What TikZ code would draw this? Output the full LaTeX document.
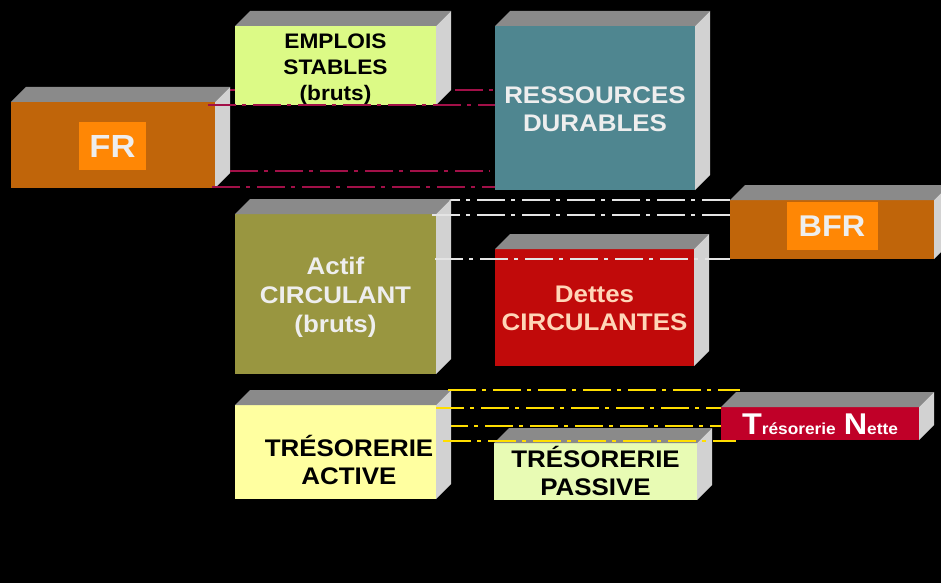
\documentclass[tikz,border=0pt]{standalone}
\usepackage{fontspec}
\setmainfont{Liberation Sans}[FakeStretch=1.08]
\definecolor{topc}{RGB}{138,138,138}
\definecolor{sidec}{RGB}{210,210,210}
\definecolor{emploisc}{RGB}{220,250,134}
\definecolor{frc}{RGB}{192,101,10}
\definecolor{orangelab}{RGB}{255,135,5}
\definecolor{rdc}{RGB}{79,134,144}
\definecolor{actifc}{RGB}{153,150,64}
\definecolor{dettesc}{RGB}{193,10,10}
\definecolor{dettest}{RGB}{255,214,184}
\definecolor{tac}{RGB}{255,255,160}
\definecolor{tpc}{RGB}{232,251,180}
\definecolor{tnc}{RGB}{192,0,40}
\definecolor{crim}{RGB}{162,16,72}
\definecolor{whl}{RGB}{228,228,228}
\definecolor{yel}{RGB}{255,222,0}
\definecolor{lightt}{RGB}{238,238,238}
\tikzset{
  front/.style={rectangle, inner sep=0pt, outer sep=0pt, draw=none},
  topface/.style={fill=topc},
  sideface/.style={fill=sidec},
  lab/.style={font=\bfseries, align=center, inner sep=0pt},
  dashdot/.style={line width=2.9pt, dash pattern=on 28pt off 6pt on 4pt off 7pt},
  crimline/.style={dashdot, draw=crim},
  whiteline/.style={dashdot, draw=whl},
  yelline/.style={dashdot, draw=yel},
}
\newcommand\bbox[6]{%
  \node[front, fill=#6, minimum width={#4-#2}, minimum height={#5-#3}] (#1) at ({(#2+#4)/2},{(#3+#5)/2}) {};
  \fill[topface] (#1.north west) -- ++(15,-15) -- ([shift={(15,-15)}]#1.north east) -- (#1.north east) -- cycle;
  \fill[sideface] (#1.north east) -- ++(15,-15) -- ([shift={(15,-15)}]#1.south east) -- (#1.south east) -- cycle;
}
\begin{document}
\begin{tikzpicture}[x=1pt,y=-1pt]
\fill[black] (0,0) rectangle (941,583);
\clip (0,0) rectangle (941,583);
% lines behind boxes
\coordinate (c1a) at (230,90);  \coordinate (c1b) at (495,90);
\coordinate (w1a) at (432,200); \coordinate (w1b) at (730,200);
\coordinate (y3a) at (440,426); \coordinate (y3b) at (721,426);
\draw[crimline] (c1a) -- (c1b);
\draw[whiteline] (w1a) -- (w1b);
\draw[yelline] (y3a) -- (y3b);
% boxes
\bbox{emplois}{235}{26}{436}{105}{emploisc}
\bbox{fr}{11}{102}{215}{188}{frc}
\bbox{rd}{495}{26}{695}{190}{rdc}
\bbox{bfr}{730}{200}{934}{259}{frc}
\bbox{actif}{235}{214}{436}{374}{actifc}
\bbox{dettes}{495}{249}{694}{366}{dettesc}
\bbox{ta}{235}{405}{436}{499}{tac}
\bbox{tp}{494}{443}{697}{500}{tpc}
\bbox{tn}{721}{407}{919}{440}{tnc}
% labels
\node[lab, fill=orangelab, minimum width=67pt, minimum height=48pt, text=lightt, font=\bfseries\fontsize{32}{32}\selectfont] (frl) at (112.5,146) {FR};
\node[lab, fill=orangelab, minimum width=91pt, minimum height=48pt, text=lightt, font=\bfseries\fontsize{30}{30}\selectfont] (bfrl) at (832,226) {BFR};
\node[lab, text=black, font=\bfseries\fontsize{21}{26}\selectfont] (emploist) at (335.5,69.5) {EMPLOIS\\STABLES\\(bruts)};
\node[lab, text=lightt, font=\bfseries\fontsize{24}{28}\selectfont] (rdt) at (595,109) {RESSOURCES\\DURABLES};
\node[lab, text=lightt, font=\bfseries\fontsize{24}{29}\selectfont] (actift) at (335.5,297) {Actif\\CIRCULANT\\(bruts)};
\node[lab, text=dettest, font=\bfseries\fontsize{24}{28}\selectfont] (dettest) at (594.5,308.5) {Dettes\\CIRCULANTES};
\node[lab, text=black, font=\bfseries\fontsize{24}{28}\selectfont] (tat) at (349,460) {TRÉSORERIE\\ACTIVE};
\node[lab, text=black, font=\bfseries\fontsize{24}{28}\selectfont] (tpt) at (595.5,471) {TRÉSORERIE\\PASSIVE};
\node[lab, text=white] (tnt) at (820,424) {{\fontsize{30}{30}\selectfont T}{\fontsize{16}{16}\selectfont résorerie}\hspace{8pt}{\fontsize{30}{30}\selectfont N}{\fontsize{16}{16}\selectfont ette}};
% lines in front
\coordinate (c2a) at (208,105); \coordinate (c2b) at (495,105);
\coordinate (c3a) at (230,171); \coordinate (c3b) at (490,171);
\coordinate (c4a) at (212,187); \coordinate (c4b) at (495,187);
\coordinate (w2a) at (432,215); \coordinate (w2b) at (730,215);
\coordinate (w3a) at (435,259); \coordinate (w3b) at (730,259);
\coordinate (y1a) at (448,390); \coordinate (y1b) at (740,390);
\coordinate (y2a) at (436,408); \coordinate (y2b) at (721,408);
\coordinate (y4a) at (443,441); \coordinate (y4b) at (736,441);
\draw[crimline] (c2a) -- (c2b);
\draw[crimline] (c3a) -- (c3b);
\draw[crimline] (c4a) -- (c4b);
\draw[whiteline] (w2a) -- (w2b);
\draw[whiteline] (w3a) -- (w3b);
\draw[yelline] (y1a) -- (y1b);
\draw[yelline] (y2a) -- (y2b);
\draw[yelline] (y4a) -- (y4b);
\end{tikzpicture}
\end{document}
